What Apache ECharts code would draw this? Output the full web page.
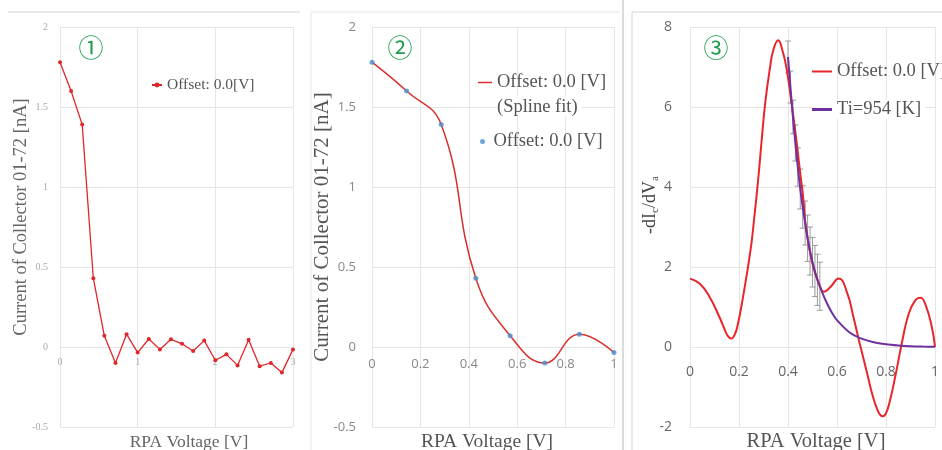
<!DOCTYPE html>
<html>
<head>
<meta charset="utf-8">
<script src="https://cdn.jsdelivr.net/npm/echarts@6/dist/echarts.min.js"></script>
<style>
  html, body { margin: 0; padding: 0; background: #fff; }
  #box { width: 942px; height: 450px; }
</style>
</head>
<body>
<div id="box"></div>
<script>
// panel 1 + 2 : measured current (x = RPA voltage, step 1/7 V)
var rawX = [0, 0.143, 0.286, 0.429, 0.571, 0.714, 0.857, 1, 1.143, 1.286, 1.429, 1.571, 1.714, 1.857, 2, 2.143, 2.286, 2.429, 2.571, 2.714, 2.857, 3];
var rawY = [1.78, 1.60, 1.39, 0.43, 0.07, -0.10, 0.08, -0.035, 0.05, -0.015, 0.048, 0.02, -0.025, 0.04, -0.083, -0.046, -0.115, 0.046, -0.12, -0.10, -0.16, -0.015];
var zoomCount = 8; // panel 2 shows the first 8 points

// panel 3 : -dIc/dVa (red)
var derivX = [0, 0.04, 0.08, 0.12, 0.147, 0.158, 0.169, 0.18, 0.193, 0.22, 0.247, 0.26, 0.28, 0.293, 0.307, 0.327, 0.34, 0.36, 0.377, 0.393, 0.413, 0.431, 0.447, 0.463, 0.473, 0.5, 0.527, 0.547, 0.573, 0.607, 0.64, 0.667, 0.693, 0.72, 0.747, 0.767, 0.777, 0.787, 0.798, 0.813, 0.84, 0.867, 0.893, 0.92, 0.94, 0.96, 0.987, 1.0];
var derivY = [1.71, 1.58, 1.25, 0.75, 0.36, 0.25, 0.21, 0.28, 0.5, 1.38, 2.42, 3.1, 4.3, 5.2, 6.1, 7.0, 7.42, 7.67, 7.42, 7.0, 6.17, 5.33, 4.5, 3.67, 3.0, 2.08, 1.58, 1.38, 1.5, 1.71, 1.38, 0.75, 0.08, -0.58, -1.25, -1.6, -1.7, -1.73, -1.68, -1.42, -0.67, 0.17, 0.83, 1.17, 1.23, 1.08, 0.5, 0.0];

// panel 3 : Ti fit (purple)
var fitX = [0.40, 0.41, 0.42, 0.43, 0.44, 0.45, 0.46, 0.47, 0.48, 0.49, 0.50, 0.52, 0.54, 0.56, 0.58, 0.60, 0.65, 0.70, 0.75, 0.80, 0.85, 0.90, 0.95, 1.00];
var fitY = [7.25, 6.5, 5.75, 5.1, 4.5, 3.95, 3.5, 3.1, 2.72, 2.4, 2.12, 1.68, 1.36, 1.08, 0.85, 0.67, 0.37, 0.21, 0.12, 0.07, 0.04, 0.02, 0.01, 0.005];

// panel 3 : error bars
var errX = [0.40, 0.41, 0.42, 0.43, 0.44, 0.45, 0.46, 0.47, 0.48, 0.49, 0.50, 0.51, 0.52, 0.53];
var errY = [7.25, 6.5, 5.75, 5.1, 4.5, 3.95, 3.5, 3.1, 2.72, 2.4, 2.12, 1.9, 1.68, 1.52];
var errH = [0.4, 0.4, 0.42, 0.45, 0.48, 0.5, 0.53, 0.55, 0.58, 0.6, 0.62, 0.64, 0.64, 0.6];

function pairs(xs, ys) {
  return xs.map(function (x, i) { return [x, ys[i]]; });
}

var serif = 'Liberation Serif';
var grid = '#e6e6e6';
var red = '#e0262a';
var purple = '#7030a0';

// x axis drawn on the y = 0 line (80px above the grid bottom in every panel)
function xAx(idx, max, interval, size, color, margin, font) {
  return {
    type: 'value', gridIndex: idx, min: 0, max: max, interval: interval,
    offset: -80,
    axisLine: { show: true, onZero: false, lineStyle: { color: grid } },
    axisTick: { show: false },
    axisLabel: { color: color, fontSize: size, margin: margin, fontFamily: font },
    splitLine: { show: true, lineStyle: { color: grid } }
  };
}
function yAx(idx, min, max, interval, size, color, margin, font) {
  return {
    type: 'value', gridIndex: idx, min: min, max: max, interval: interval,
    axisLine: { show: false, onZero: false },
    axisTick: { show: false },
    axisLabel: { color: color, fontSize: size, margin: margin, fontFamily: font },
    splitLine: { show: true, lineStyle: { color: grid } }
  };
}

var chart = echarts.init(document.getElementById('box'));

var option = {
  animation: false,
  backgroundColor: '#fff',
  grid: [
    { left: 60, top: 27, width: 233, height: 400 },
    { left: 372, top: 27, width: 242, height: 400 },
    { left: 690, top: 27, width: 250, height: 400 }
  ],
  xAxis: [
    xAx(0, 3, 1, 10, '#aaa', 10, serif),
    xAx(1, 1, 0.2, 13, '#888', 11, 'Open Sans'),
    xAx(2, 1, 0.2, 14, '#666', 18, 'Open Sans')
  ],
  yAxis: [
    yAx(0, -0.5, 2, 0.5, 10, '#aaa', 12, serif),
    yAx(1, -0.5, 2, 0.5, 13, '#888', 16, 'Open Sans'),
    yAx(2, -2, 8, 2, 14, '#666', 18, 'Open Sans')
  ],
  legend: [
    { data: ['Offset: 0.0[V]'], left: 151, top: 77, padding: 0, itemWidth: 10, itemHeight: 6,
      textStyle: { fontFamily: serif, fontSize: 15.5, color: '#555' } },
    { data: [{ name: 'Offset: 0.0 [V] ', icon: 'rect' }], left: 478, top: 73, padding: 0, itemWidth: 14, itemHeight: 1.5,
      textStyle: { fontFamily: serif, fontSize: 18.5, color: '#555' } },
    { data: ['Offset: 0.0 [V]'], left: 480, top: 132, padding: 0, itemWidth: 12, itemHeight: 5,
      textStyle: { fontFamily: serif, fontSize: 18.5, color: '#555' } },
    { data: [{ name: 'Offset: 0.0 [V]  ', icon: 'rect' }], left: 812, top: 62, padding: 0,
      itemWidth: 20, itemHeight: 2, textStyle: { fontFamily: serif, fontSize: 18.5, color: '#555' } },
    { data: [{ name: 'Ti=954 [K]', icon: 'rect' }], left: 812, top: 100, padding: [0, 4, 0, 0],
      backgroundColor: '#fff',
      itemWidth: 20, itemHeight: 3, textStyle: { fontFamily: serif, fontSize: 18.5, color: '#555' } }
  ],
  graphic: [
    // panel frames
    { type: 'line', shape: { x1: 8, y1: 12, x2: 300, y2: 12 }, style: { stroke: '#e2e2e2', lineWidth: 1.5 } },
    { type: 'line', shape: { x1: 311, y1: 12, x2: 620, y2: 12 }, style: { stroke: '#ececec', lineWidth: 1.5 } },
    { type: 'line', shape: { x1: 311, y1: 12, x2: 311, y2: 450 }, style: { stroke: '#efefef', lineWidth: 1.5 } },
    { type: 'line', shape: { x1: 623, y1: 0, x2: 623, y2: 450 }, style: { stroke: '#cfcfcf', lineWidth: 1.5 } },
    { type: 'line', shape: { x1: 632, y1: 12, x2: 942, y2: 12 }, style: { stroke: '#e2e2e2', lineWidth: 1.5 } },
    { type: 'line', shape: { x1: 632, y1: 12, x2: 632, y2: 450 }, style: { stroke: '#e2e2e2', lineWidth: 1.5 } },
    // circled panel numbers
    { type: 'text', x: 91, y: 47, style: { text: '①', fontFamily: 'Noto Sans CJK SC', fontSize: 25, fill: '#1f9d4f', textAlign: 'center', textVerticalAlign: 'middle' } },
    { type: 'text', x: 400, y: 47, style: { text: '②', fontFamily: 'Noto Sans CJK SC', fontSize: 25, fill: '#1f9d4f', textAlign: 'center', textVerticalAlign: 'middle' } },
    { type: 'text', x: 716, y: 47, style: { text: '③', fontFamily: 'Noto Sans CJK SC', fontSize: 25, fill: '#1f9d4f', textAlign: 'center', textVerticalAlign: 'middle' } },
    // legend second line
    { type: 'text', x: 497, y: 107, z: 10, style: { text: '(Spline fit)', fontFamily: serif, fontSize: 18.5, fill: '#555', textAlign: 'left', textVerticalAlign: 'middle', backgroundColor: '#fff', padding: [0, 4, 0, 0] } },
    // axis titles
    { type: 'text', x: 189, y: 442, style: { text: 'RPA Voltage [V]', fontFamily: serif, fontSize: 17.5, fill: '#666', textAlign: 'center', textVerticalAlign: 'middle' } },
    { type: 'text', x: 487, y: 442, style: { text: 'RPA Voltage [V]', fontFamily: serif, fontSize: 19.5, fill: '#555', textAlign: 'center', textVerticalAlign: 'middle' } },
    { type: 'text', x: 816, y: 442, style: { text: 'RPA Voltage [V]', fontFamily: serif, fontSize: 20.5, fill: '#555', textAlign: 'center', textVerticalAlign: 'middle' } },
    { type: 'text', x: 21, y: 217, rotation: Math.PI / 2, style: { text: 'Current of Collector 01-72 [nA]', fontFamily: serif, fontSize: 18.5, fill: '#666', textAlign: 'center', textVerticalAlign: 'middle' } },
    { type: 'text', x: 322, y: 227, rotation: Math.PI / 2, style: { text: 'Current of Collector 01-72 [nA]', fontFamily: serif, fontSize: 21, fill: '#555', textAlign: 'center', textVerticalAlign: 'middle' } },
    { type: 'text', x: 650, y: 205, rotation: Math.PI / 2, style: {
        text: '{m|-dI}{s|c}{m|/dV}{s|a}', textAlign: 'center', textVerticalAlign: 'middle',
        rich: {
          m: { fontFamily: serif, fontSize: 18, fill: '#444', color: '#444', lineHeight: 22 },
          s: { fontFamily: serif, fontSize: 11, fill: '#444', color: '#444', lineHeight: 22, verticalAlign: 'bottom' }
        } } }
  ],
  series: [
    {
      name: 'Offset: 0.0[V]', type: 'line', xAxisIndex: 0, yAxisIndex: 0,
      data: pairs(rawX, rawY),
      symbol: 'circle', symbolSize: 4,
      lineStyle: { color: red, width: 1.3 },
      itemStyle: { color: red }
    },
    {
      name: 'Offset: 0.0 [V] ', type: 'line', xAxisIndex: 1, yAxisIndex: 1,
      data: pairs(rawX.slice(0, zoomCount), rawY.slice(0, zoomCount)),
      smooth: 0.45, symbol: 'none',
      lineStyle: { color: '#d9302c', width: 1.5 },
      itemStyle: { color: '#d9302c' }
    },
    {
      name: 'Offset: 0.0 [V]', type: 'scatter', xAxisIndex: 1, yAxisIndex: 1,
      data: pairs(rawX.slice(0, zoomCount), rawY.slice(0, zoomCount)),
      symbol: 'circle', symbolSize: 5, z: 5,
      itemStyle: { color: '#4a8fd0' }
    },
    {
      name: 'Offset: 0.0 [V]  ', type: 'line', xAxisIndex: 2, yAxisIndex: 2,
      data: pairs(derivX, derivY),
      smooth: 0.5, symbol: 'none',
      lineStyle: { color: '#e8262a', width: 2 },
      itemStyle: { color: '#e8262a' }
    },
    {
      type: 'custom', xAxisIndex: 2, yAxisIndex: 2, z: 3,
      data: errX.map(function (x, i) { return [x, errY[i] - errH[i], errY[i] + errH[i]]; }),
      renderItem: function (params, api) {
        var lo = api.coord([api.value(0), api.value(1)]);
        var hi = api.coord([api.value(0), api.value(2)]);
        var w = 3;
        var st = { stroke: '#9a9a9a', lineWidth: 1 };
        return {
          type: 'group',
          children: [
            { type: 'line', shape: { x1: lo[0], y1: lo[1], x2: hi[0], y2: hi[1] }, style: st },
            { type: 'line', shape: { x1: lo[0] - w, y1: lo[1], x2: lo[0] + w, y2: lo[1] }, style: st },
            { type: 'line', shape: { x1: hi[0] - w, y1: hi[1], x2: hi[0] + w, y2: hi[1] }, style: st }
          ]
        };
      }
    },
    {
      name: 'Ti=954 [K]', type: 'line', xAxisIndex: 2, yAxisIndex: 2, z: 4,
      data: pairs(fitX, fitY),
      smooth: 0.3, symbol: 'none',
      lineStyle: { color: purple, width: 2 },
      itemStyle: { color: purple }
    }
  ]
};

chart.setOption(option);
</script>
</body>
</html>
